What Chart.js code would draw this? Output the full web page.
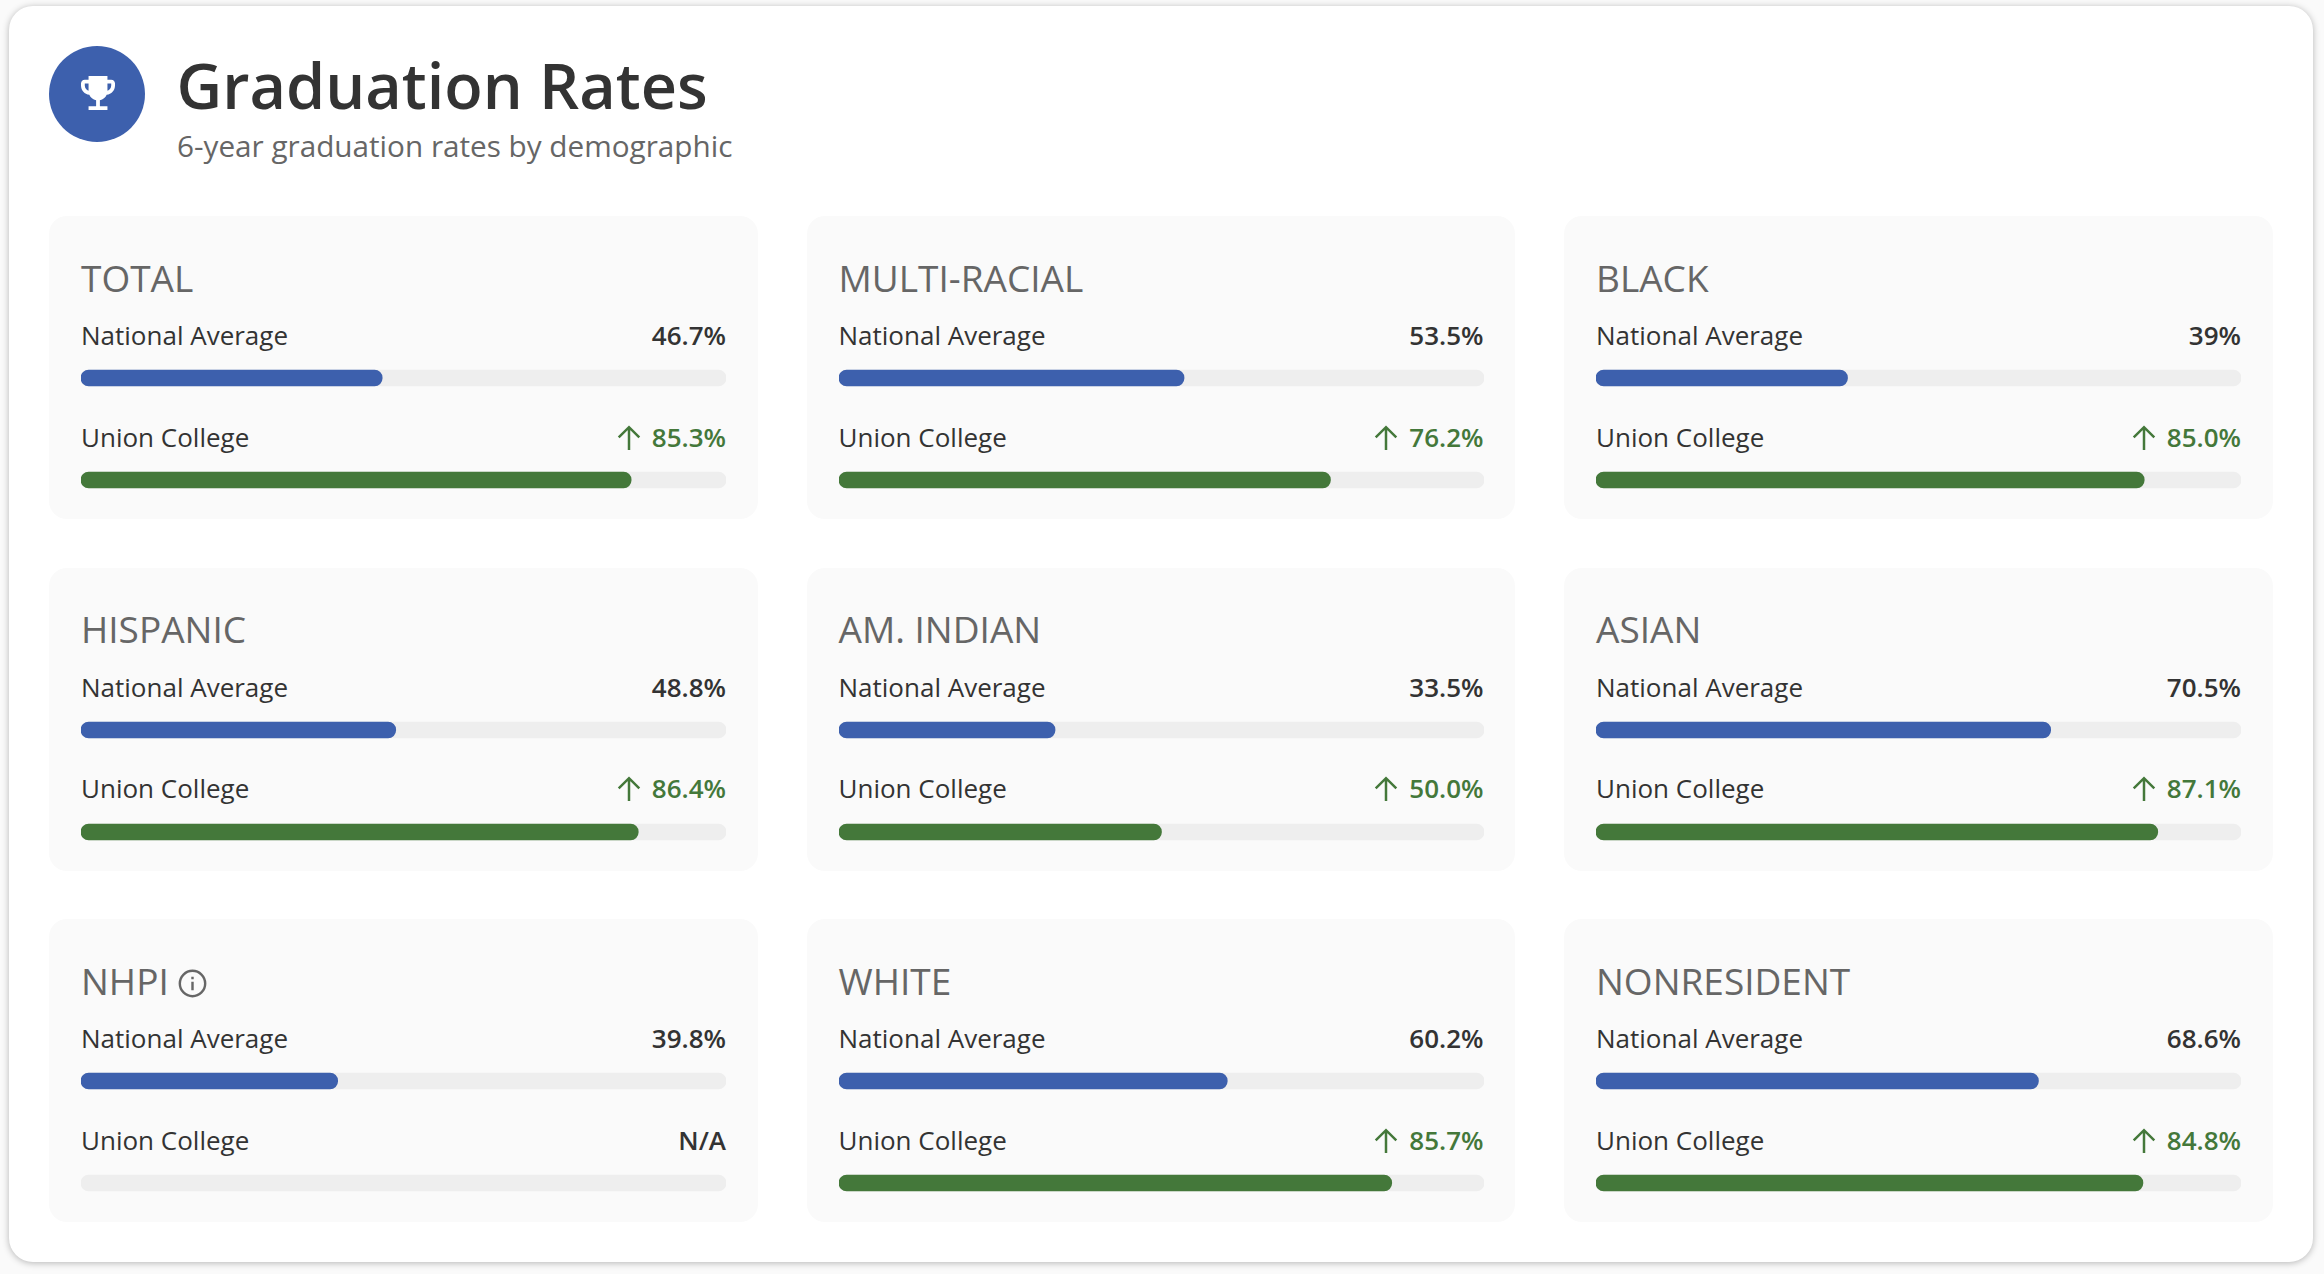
<!DOCTYPE html>
<html>
<head>
<meta charset="utf-8">
<title>Graduation Rates</title>
<script src="https://cdn.jsdelivr.net/npm/chart.js@4"></script>
<style>
    html, body { margin: 0; padding: 0; width: 2324px; height: 1274px; overflow: hidden; background: #fafafa; font-family: "Open Sans", sans-serif; }
    .main { position: absolute; left: 9px; top: 6px; width: 2304px; height: 1256px; background: #fff; border-radius: 24px; box-shadow: 0 1px 7px rgba(0,0,0,.28); }
    .badge { position: absolute; left: 49px; top: 46px; width: 96px; height: 96px; border-radius: 50%; background: #3d60ad; }
    .badge svg { position: absolute; left: 31.5px; top: 30px; width: 34px; height: 34px; fill: #fff; }
    h1, .sub, .panel h2, .row { position: absolute; margin: 0; line-height: 1; white-space: nowrap; }
    h1 { left: 176.5px; top: 52.5px; font-size: 63px; font-weight: 600; color: #333; }
    .sub { left: 177px; top: 130.5px; font-size: 29.7px; color: #666; }
    .grid { position: absolute; left: 49px; top: 216px; width: 2223px; display: grid; grid-template-columns: repeat(3, 708.5px); column-gap: 49px; row-gap: 48.5px; }
    .panel { position: relative; height: 303px; background: #fafafa; border-radius: 18px; }
    .panel h2 { left: 32px; top: 42.5px; font-size: 37px; font-weight: 400; color: #666; }
    .panel h2 svg { width: 29px; height: 29px; margin-left: 9px; vertical-align: -3px; fill: none; stroke: #666; stroke-width: 2; }
    .row { left: 32px; width: 645px; font-size: 26px; color: #333; display: flex; justify-content: space-between; }
    .val { font-weight: 600; }
    .val.up { color: #44783a; }
    .val svg { width: 26px; height: 26px; margin-right: 10px; vertical-align: -4px; fill: none; stroke: #44783a; stroke-width: 2.3; }
    .barbox { position: absolute; left: 32px; top: 111px; width: 645px; height: 204px; pointer-events: none; }
</style>
</head>
<body>
<div class="main"></div>
<div class="badge">
    <svg viewBox="3 3 18 18"><path d="M19 5h-2V3H7v2H5c-1.1 0-2 .9-2 2v1c0 2.55 1.92 4.63 4.39 4.94.63 1.5 1.98 2.63 3.61 2.96V19H7v2h10v-2h-4v-3.1c1.63-.33 2.98-1.46 3.61-2.96C19.08 12.63 21 10.55 21 8V7c0-1.1-.9-2-2-2zM5 8V7h2v3.82C5.84 10.4 5 9.3 5 8zm14 0c0 1.3-.84 2.4-2 2.82V7h2v1z"/></svg>
</div>
<h1>Graduation Rates</h1>
<div class="sub">6-year graduation rates by demographic</div>
<div class="grid" id="grid"></div>

<script>
const groups = ["TOTAL", "MULTI-RACIAL", "BLACK", "HISPANIC", "AM. INDIAN", "ASIAN", "NHPI", "WHITE", "NONRESIDENT"];
const rowNames = ["National Average", "Union College"];
const nationalAvg = [46.7, 53.5, 39, 48.8, 33.5, 70.5, 39.8, 60.2, 68.6];
const unionCollege = [85.3, 76.2, 85.0, 86.4, 50.0, 87.1, null, 85.7, 84.8];
const fullScale = [100, 100];

const BLUE = "#3d60ad";
const GREEN = "#44783a";
const TRACK = "#eeeeee";

const arrowIcon = '<svg viewBox="0 0 24 24"><path d="M12 23V2M2.5 11.5L12 2l9.500 9.500"/></svg>';
const infoIcon = '<svg viewBox="0 0 24 24"><circle cx="12" cy="12" r="10.500"/><path d="M12 10.500v7M12 6.500v2"/></svg>';

// one row of text: label on the left, value on the right
function rowHtml(name, top, text, isUp) {
    let arrow = isUp ? arrowIcon : "";
    return `<div class="row" style="top:${top}px"><span>${name}</span><span class="val ${isUp ? "up" : ""}">${arrow}${text}</span></div>`;
}

// draw the two bars of one panel
function drawBars(canvas, national, union) {
    new Chart(canvas, {
        type: "bar",
        data: {
            labels: rowNames,
            datasets: [
                {
                    label: "Value",
                    data: [national, union],
                    backgroundColor: [BLUE, GREEN],
                    order: 1
                },
                {
                    label: "Track",
                    data: fullScale,
                    backgroundColor: TRACK,
                    order: 2
                }
            ]
        },
        options: {
            indexAxis: "y",
            responsive: false,
            animation: false,
            devicePixelRatio: 1,
            datasets: { bar: { grouped: false, barThickness: 16, borderRadius: 8, borderSkipped: false } },
            layout: { padding: 0 },
            plugins: { legend: { display: false }, tooltip: { enabled: false } },
            scales: {
                x: { display: false, min: 0, max: 100 },
                y: { display: false }
            }
        }
    });
}

let grid = document.getElementById("grid");

groups.forEach((g, i) => {
    let union = unionCollege[i];
    let div = document.createElement("div");
    div.className = "panel";
    div.innerHTML = `
        <h2>${g}${g === "NHPI" ? infoIcon : ""}</h2>
        ${rowHtml(rowNames[0], 106, nationalAvg[i] + "%", false)}
        ${rowHtml(rowNames[1], 207.5, union === null ? "N/A" : union.toFixed(1) + "%", union !== null)}
        <div class="barbox"><canvas width="645" height="204"></canvas></div>
    `;
    grid.appendChild(div);
    drawBars(div.querySelector("canvas"), nationalAvg[i], union);
});
</script>
</body>
</html>
